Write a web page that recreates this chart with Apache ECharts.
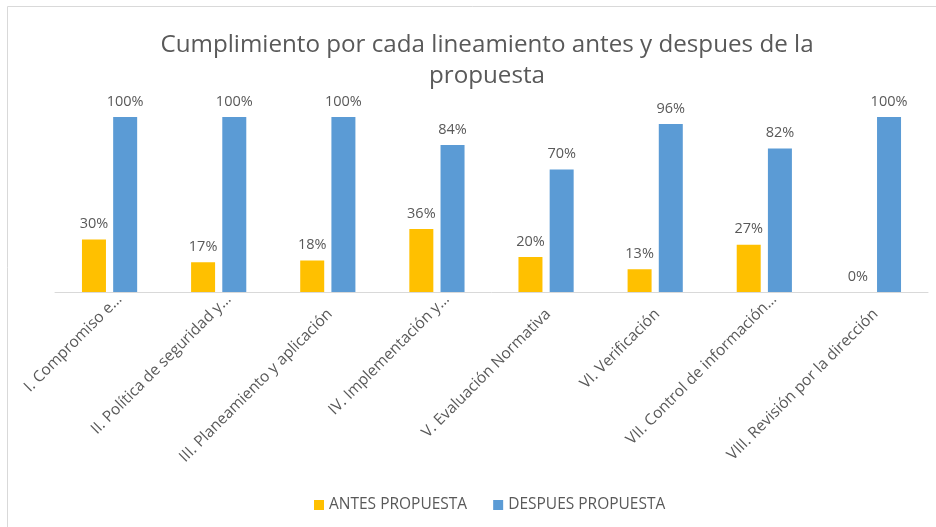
<!DOCTYPE html>
<html>
<head>
<meta charset="utf-8">
<script src="https://cdn.jsdelivr.net/npm/echarts@6/dist/echarts.min.js"></script>
<style>
  html, body { margin: 0; padding: 0; background: #fff; }
  #chart { width: 936px; height: 527px; }
</style>
</head>
<body>
<div id="chart"></div>
<script>
// Categories (lineamientos) as shown on the axis
const categories = [
  'I. Compromiso e…',
  'II. Política de seguridad y…',
  'III. Planeamiento y aplicación',
  'IV. Implementación y…',
  'V. Evaluación Normativa',
  'VI. Verificación',
  'VII. Control de información…',
  'VIII. Revisión por la dirección'
];
// Compliance percentages
const antesPropuesta = [30, 17, 18, 36, 20, 13, 27, 0];
const despuesPropuesta = [100, 100, 100, 84, 70, 96, 82, 100];
const seriesNames = ['ANTES PROPUESTA', 'DESPUES PROPUESTA'];

// Shortened names sit a little further out along the slant than full ones
const categoryItems = categories.map(name => ({
  value: name,
  textStyle: name.endsWith('…')
    ? { lineHeight: 28, padding: [0, 0, 0, 0] }
    : { lineHeight: 38, padding: [0, 16, 0, 0] }
}));

const chart = echarts.init(document.getElementById('chart'));
const labelStyle = {
  show: true,
  position: 'top',
  distance: 8,
  color: '#595959',
  fontSize: 14.5,
  fontFamily: 'Open Sans',
  formatter: p => p.value + '%'
};

chart.setOption({
  animation: false,
  graphic: [{
    type: 'rect',
    shape: { x: 7.5, y: 6.5, width: 940, height: 540 },
    style: { fill: 'none', stroke: '#d9d9d9', lineWidth: 1 },
    silent: true
  }],
  title: {
    text: 'Cumplimiento por cada lineamiento antes y despues de la\npropuesta',
    left: 482,
    textAlign: 'center',
    top: 25,
    textStyle: {
      color: '#595959',
      fontSize: 24.2,
      fontWeight: 'normal',
      fontFamily: 'Open Sans',
      lineHeight: 31
    }
  },
  legend: {
    bottom: 9,
    left: 309,
    itemWidth: 10,
    itemHeight: 10,
    itemGap: 26,
    icon: 'rect',
    textStyle: { color: '#595959', fontSize: 15.5, fontFamily: 'Open Sans' },
    data: seriesNames
  },
  grid: {
    left: 55, right: 8, top: 117, bottom: 235,
    containLabel: false,
    outerBoundsMode: 'none'
  },
  xAxis: {
    type: 'category',
    data: categoryItems,
    axisLine: { lineStyle: { color: '#d9d9d9' } },
    axisTick: { show: false },
    axisLabel: {
      rotate: 45,
      interval: 0,
      margin: -5,
      // leading blank line pushes each slanted name slightly below its anchor
      formatter: v => '\n' + v,
      color: '#595959',
      fontSize: 15.5,
      fontFamily: 'Open Sans'
    }
  },
  yAxis: {
    type: 'value',
    min: 0,
    max: 100,
    show: false
  },
  series: [
    {
      name: seriesNames[0],
      type: 'bar',
      data: antesPropuesta,
      barWidth: 24,
      barGap: '30%',
      itemStyle: { color: '#FFC000' },
      label: labelStyle
    },
    {
      name: seriesNames[1],
      type: 'bar',
      data: despuesPropuesta,
      barWidth: 24,
      itemStyle: { color: '#5B9BD5' },
      label: labelStyle
    }
  ]
});
</script>
</body>
</html>
